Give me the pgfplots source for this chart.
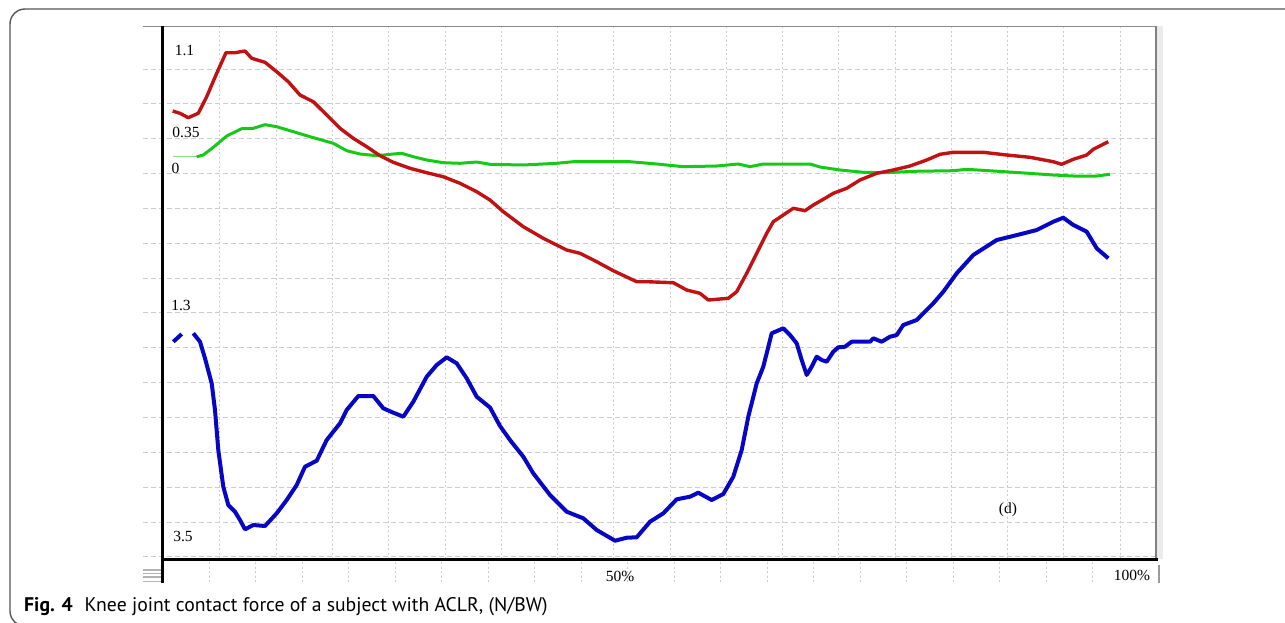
\documentclass[border=0pt]{standalone}
\usepackage{pgfplots}
\pgfplotsset{compat=1.18}
\usepackage{fontspec}
\setmainfont{Liberation Serif}
\newfontfamily\capfont{PT Sans}
\definecolor{cred}{RGB}{192,18,18}
\definecolor{cgreen}{RGB}{24,200,24}
\definecolor{cblue}{RGB}{6,6,196}
\definecolor{gridc}{RGB}{205,205,205}
\definecolor{framec}{RGB}{85,85,85}

\pgfplotstableread{
x y
172.7 111
180 113.3
188.3 117.7
198.3 113.3
206.7 96.7
216.7 73.3
226 52.7
235 52.7
245 51
251.7 58.3
265 62.3
276.7 71.7
288.3 81.7
300 95
313.3 101.7
326.7 115
340 128.3
353.3 138.3
366.7 146.7
380 155.7
393.3 162.3
410 168.3
426.7 172.7
443.3 176.7
460 183.3
476.7 191.7
490 200
503.3 211.7
523.3 226.7
543.3 238.3
566.7 250
580 253.3
596.7 261.7
613.3 270.7
636.7 281.7
646.7 281.7
673.3 282.7
686.7 290
700 293.3
708.3 300
728.3 298.3
736.7 291.7
746.7 273.3
756.7 253.3
766.7 233.3
773.3 221.7
783.3 215
793.3 208.3
805 210.7
813.3 205
823.3 199.3
833.3 193.3
846.7 188.3
860 180
876.7 173.3
893.3 170
910 166
926.7 160
940 154.3
953.3 152.3
983.3 152.3
1006.7 155
1030 157.3
1053.3 161.7
1061.7 164.3
1073.3 159.3
1086.7 155
1093.3 149.3
1108.3 141.7
}\redtab

\pgfplotstableread{
x y
196.7 156.7
203.3 155
213.3 147.3
226.7 136
241.7 128.7
253.3 128.3
265 124.7
276.7 126.7
293.3 131.7
310 136.7
333.3 143.3
346.7 150.7
360 154
376.7 155.7
393.3 154
401.7 153.3
413.3 156.7
426.7 160
443.3 162.7
460 163.3
476.7 162
490 164.3
523.3 165
556.7 163.3
573.3 161.7
630 161.7
656.7 164
683.3 166.7
716.7 166
738.3 164
750 166.7
763.3 164
810 164
820 167
840 170
863.3 172.3
886.7 172.7
913.3 171.3
953.3 170.7
966.7 169.3
993.3 171
1020 172.7
1053.3 175
1073.3 176
1096.7 176
1110 174.3
}\greentab

\pgfplotstableread{
x y
173.3 341.7
178 337.5
181.7 334
187 nan
193.3 333.3
200 341.7
205 358.3
211.7 383.3
215 410
218.3 450
223.3 486.7
228.3 505
235 511.7
240 520
245 529.3
253.3 525
265 526
276.7 513.3
286.7 500
296.7 485
305 466.7
316.7 460.7
326.7 440
340 423.3
346.7 410
358.3 396
373.3 396
383.3 408.3
393.3 412.7
403.3 416.7
413.3 401.7
426.7 376.7
436.7 365
446.7 357.3
456.7 363.3
466.7 378.3
476.7 396.7
490 407.5
500 426
510 440
523.3 456.7
533.3 473.3
550 495
566.7 511.7
583.3 518.3
596.7 530
615 540.7
626.7 537.7
636.7 537.3
650 521.7
663.3 513.3
676.7 499.3
690 496.7
698.3 492.7
711.7 500
723.3 494
733.3 476.7
741.7 450
748.3 416.7
756.7 383.3
763.3 366.7
771.7 333.3
783.3 328.3
790 335
796.7 343.3
801.7 360
806.7 375
811.7 366.7
816.7 356.7
821.7 360
826.7 361.7
833.3 351.7
838.3 347.3
845 346.7
851.7 341.7
870 341.7
873.3 338.3
881.7 341.7
890 336.7
896.7 335
903.3 325
916.7 320
923.3 313.3
933.3 303.3
943.3 291.7
956.7 273.3
973.3 255
996.7 240
1020 234.3
1036.7 230
1053.3 221.7
1063.3 217.7
1073.3 225
1086.7 231.7
1096.7 248.3
1108.3 258.3
}\bluetab

\begin{document}
\begin{tikzpicture}
\begin{axis}[
  x=1pt, y=1pt, scale only axis,
  xmin=143, xmax=1155, ymin=26, ymax=559.5, y dir=reverse,
  axis line style={draw=none},
  tick style={draw=none},
  xtick={220,276.25,...,1121}, ytick={69,103.85,...,558},
  xticklabels={}, yticklabels={},
  grid=major,
  x grid style={gridc, line width=1pt, dash pattern=on 2pt off 2.5pt},
  y grid style={gridc, line width=1pt, dash pattern=on 5pt off 3pt},
  clip=false,
  unbounded coords=jump,
]
\coordinate (BL) at (axis cs:0,622);
\coordinate (TR) at (axis cs:1285,0);
% outer frame
\draw[line width=1.4pt, framec, rounded corners=15pt] (axis cs:10,626) rectangle (axis cs:1310,9);
% panel borders
\fill[black!8] (axis cs:1156.5,26) rectangle (axis cs:1163,559);
\draw[black!45, line width=1.6pt] (axis cs:143,26.5) -- (axis cs:1156,26.5);
\draw[black!50, line width=2pt] (axis cs:1155.5,26) -- (axis cs:1155.5,559);
\draw[black, line width=3pt] (axis cs:162,559.5) -- (axis cs:1158,559.5);
\draw[black, line width=3pt] (axis cs:163,26) -- (axis cs:163,583);
\pgfplotsinvokeforeach{570,573.5,577,581.5}{\draw[black!30, line width=1.2pt] (axis cs:143,#1) -- (axis cs:161,#1);}
\draw[black!40, line width=1.2pt] (axis cs:1159,565) -- (axis cs:1159,583);
\pgfplotsinvokeforeach{1,...,20}{\draw[gridc, line width=1pt, dash pattern=on 2pt off 2.5pt] (axis cs:{162.5+46.51*#1},562) -- (axis cs:{162.5+46.51*#1},583);}
% curves
\addplot[cgreen!55, line width=1.3pt] coordinates {(172.7,156.7) (196.7,156.7)};
\addplot[cgreen, line width=3pt, line join=round] table {\greentab};
\addplot[cred, line width=3.4pt, line join=round] table {\redtab};
\addplot[cblue, line width=4pt, line join=round] table {\bluetab};
% labels
\begin{scope}[every node/.style={font=\fontsize{15.5}{18}\selectfont, inner sep=0pt}]
\node at (axis cs:184.5,50.5) {1.1};
\node at (axis cs:186,132) {0.35};
\node at (axis cs:175.5,168.5) {0};
\node at (axis cs:181,305) {1.3};
\node at (axis cs:183,536) {3.5};
\node at (axis cs:1008,510) {(d)};
\node at (axis cs:620,576) {50\%};
\node at (axis cs:1132,575.5) {100\%};
\end{scope}
\node[anchor=base west, inner sep=0pt, font=\capfont\fontsize{19.7}{23}\selectfont] at (axis cs:24,611.5) {\textbf{Fig. 4}\hspace{12pt}Knee joint contact force of a subject with ACLR, (N/BW)};
\end{axis}
\pgfresetboundingbox
\useasboundingbox (BL) rectangle (TR);
\end{tikzpicture}
\end{document}
